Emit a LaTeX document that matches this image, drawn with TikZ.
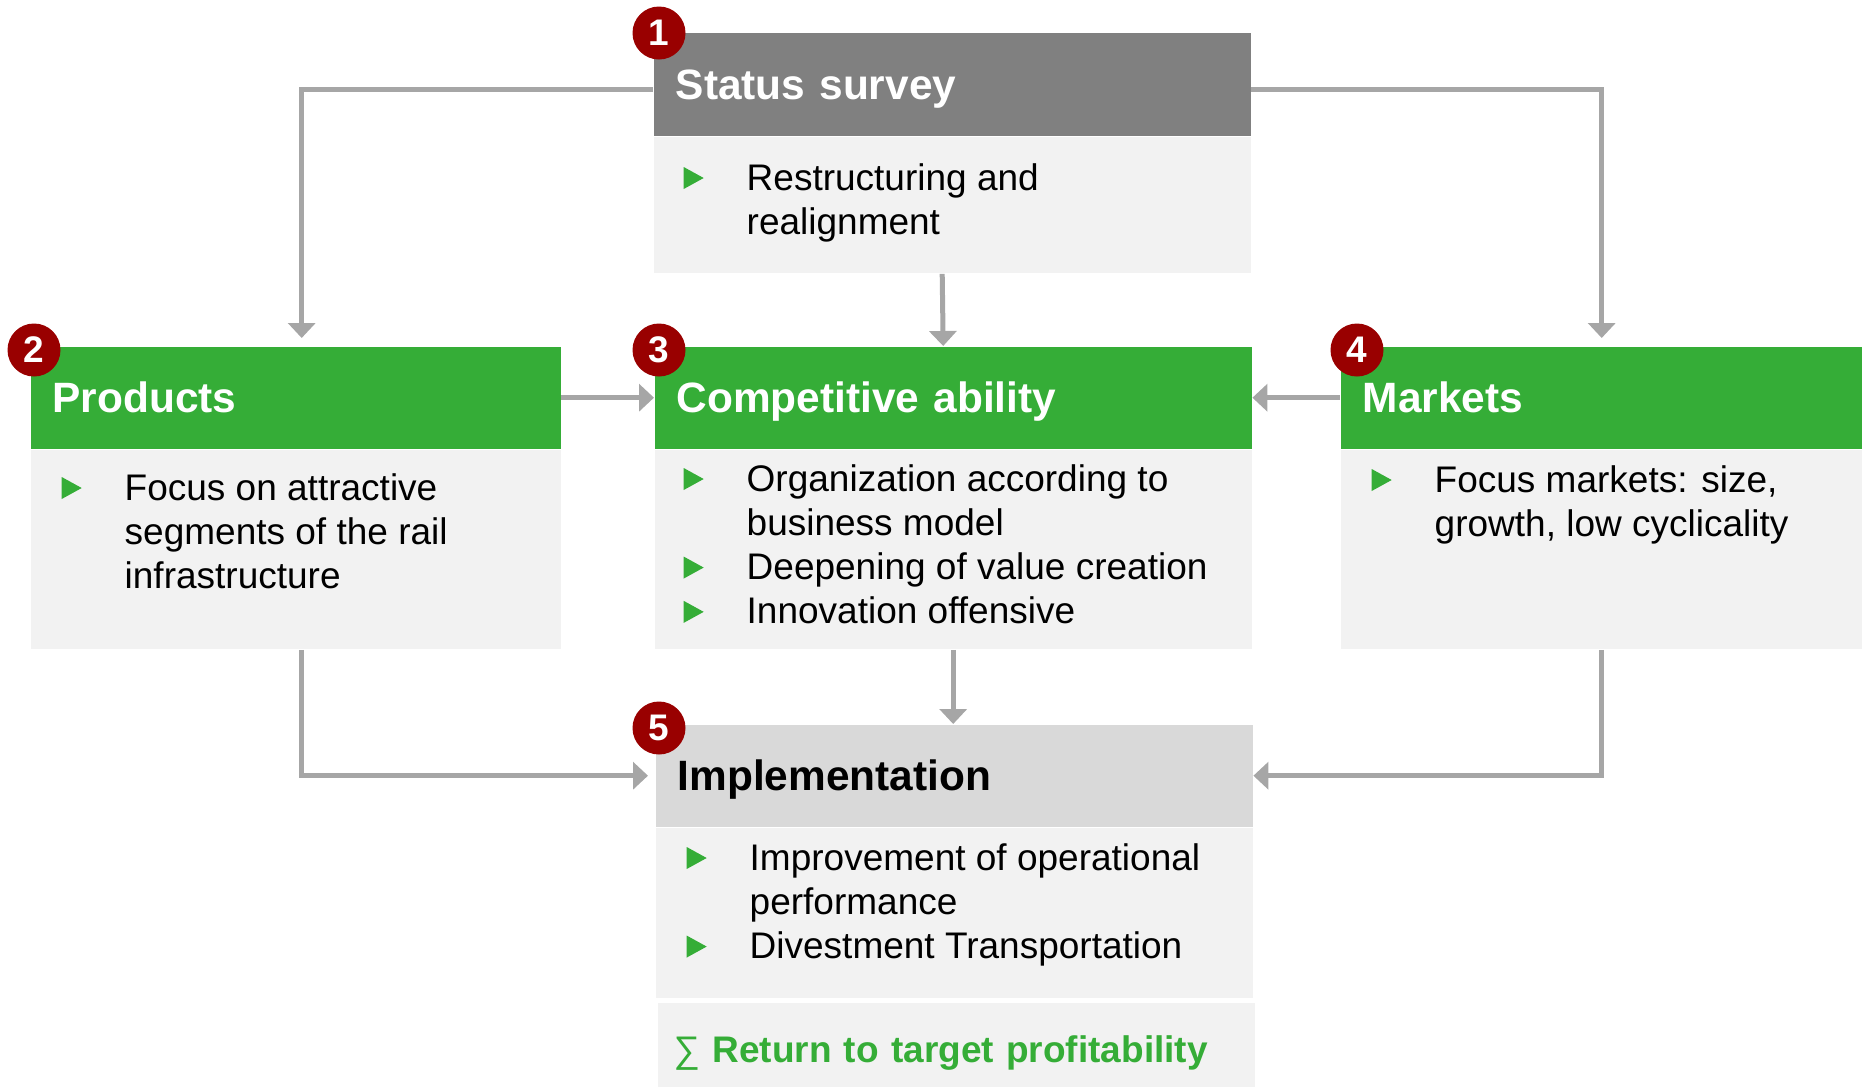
\documentclass[tikz,border=0pt]{standalone}
\usepackage{fontspec}
\setmainfont{Liberation Sans}
\usepackage{tikz}
\usetikzlibrary{arrows.meta, positioning}
\definecolor{boxgreen}{RGB}{53,173,55}
\definecolor{badgered}{RGB}{153,0,0}
\definecolor{headgray}{RGB}{128,128,128}
\definecolor{lightgray}{RGB}{217,217,217}
\definecolor{bodygray}{RGB}{242,242,242}
\definecolor{linegray}{RGB}{166,166,166}
\tikzset{
	head/.style={
		rectangle,
		anchor=north west,
		inner xsep=2.2mm,
		inner ysep=0pt,
		minimum height=10.2mm,
		align=left,
		text height=3mm,
		text depth=0pt,
		text=white,
		font=\fontsize{12.07}{14}\selectfont\bfseries
	},
	body/.style={
		rectangle,
		fill=bodygray,
		inner sep=0pt,
		minimum height=19.9mm
	},
	items/.style={
		anchor=base west,
		inner sep=0pt,
		font=\fontsize{10.53}{12.6}\selectfont
	}
}
% green arrow bullet and the bullet list
\newcommand{\tri}{\tikz[baseline=0pt]\fill[boxgreen] (0mm,0.1mm) -- (0mm,2.3mm) -- (2mm,1.2mm) -- cycle;}
\newcommand{\itemlist}[1]{\begin{tabular}[t]{@{}p{6.3mm}@{}l@{}}#1\end{tabular}}

\begin{document}
\begin{tikzpicture}[x=0.1mm, y=-0.1mm]
	\tikzset{badge/.style={circle, fill=badgered, text=white, inner sep=0pt, minimum size=5.3mm, font=\fontsize{10.53}{12}\selectfont\bfseries}}
	\tikzset{edge/.style={-{Triangle[width=2.7mm,length=1.5mm]}, draw=linegray, line width=0.5mm}}
	\useasboundingbox (0,0) rectangle (1862,1087);
	
	\node(survey) at (653,32) [head, fill=headgray, text width=55.3mm, minimum height=10.3mm] {Status survey};
	\node(survey_body) [body, below=0pt of survey, minimum width=59.7mm, minimum height=13.6mm] {};
	\node(survey_list) at (683,190) [items] {\itemlist{\tri & Restructuring and\\ & realignment}};
	
	\node(products) at (30,346) [head, fill=boxgreen, text width=48.6mm] {Products};
	\node(products_body) [body, below=0pt of products, minimum width=53mm] {};
	\node(products_list) at (61,500) [items] {\itemlist{\tri & Focus on attractive\\ & segments of the rail\\ & infrastructure}};
	
	\node(competitive) at (654,346) [head, fill=boxgreen, text width=55.3mm] {Competitive ability};
	\node(competitive_body) [body, below=0pt of competitive, minimum width=59.7mm] {};
	\node(competitive_list) at (683,491) [items] {\itemlist{\tri & Organization according to\\ & business model\\ \tri & Deepening of value creation\\ \tri & Innovation offensive}};
	
	\node(markets) at (1340,346) [head, fill=boxgreen, text width=47.8mm] {Markets};
	\node(markets_body) [body, below=0pt of markets, minimum width=52.2mm] {};
	\node(markets_list) at (1371,492) [items] {\itemlist{\tri & Focus markets: size,\\ & growth, low cyclicality}};
	
	\node(impl) at (655,724) [head, fill=lightgray, text=black, text width=55.3mm] {Implementation};
	\node(impl_body) [body, below=0pt of impl, minimum width=59.7mm, minimum height=17mm] {};
	\node(impl_list) at (686,870) [items] {\itemlist{\tri & Improvement of operational\\ & performance\\ \tri & Divestment Transportation}};
	
	\node(result) at (657,1002) [head, fill=bodygray, text=boxgreen, inner xsep=1.6mm, text width=56.5mm, minimum height=8.5mm, text height=3.5mm, font=\fontsize{10.53}{12}\selectfont\bfseries] {{\mdseries ∑} Return to target profitability};
	
	% numbers
	\node(n1) at (659,33) [badge] {1};
	\node(n2) at (34,350) [badge] {2};
	\node(n3) at (659,350) [badge] {3};
	\node(n4) at (1357,350) [badge] {4};
	\node(n5) at (659,728) [badge] {5};
	
	% flow
	\draw[edge, shorten >=0.8mm] ([yshift=-0.55mm]survey.west) -| ([xshift=0.6mm]products.north);
	\draw[edge, shorten >=0.8mm] ([yshift=-0.55mm]survey.east) -| (markets.north);
	\draw[edge] ([xshift=-1mm]survey_body.south) -- ([xshift=-1mm]competitive.north);
	\draw[edge] (products) -- (competitive);
	\draw[edge] (markets) -- (competitive);
	\draw[edge] (competitive_body.south) -- (competitive_body.south |- impl.north);
	\draw[edge, shorten >=0.7mm] ([xshift=0.6mm]products_body.south) |- (impl.west);
	\draw[edge] (markets_body.south) |- (impl.east);
	
\end{tikzpicture}
\end{document}
